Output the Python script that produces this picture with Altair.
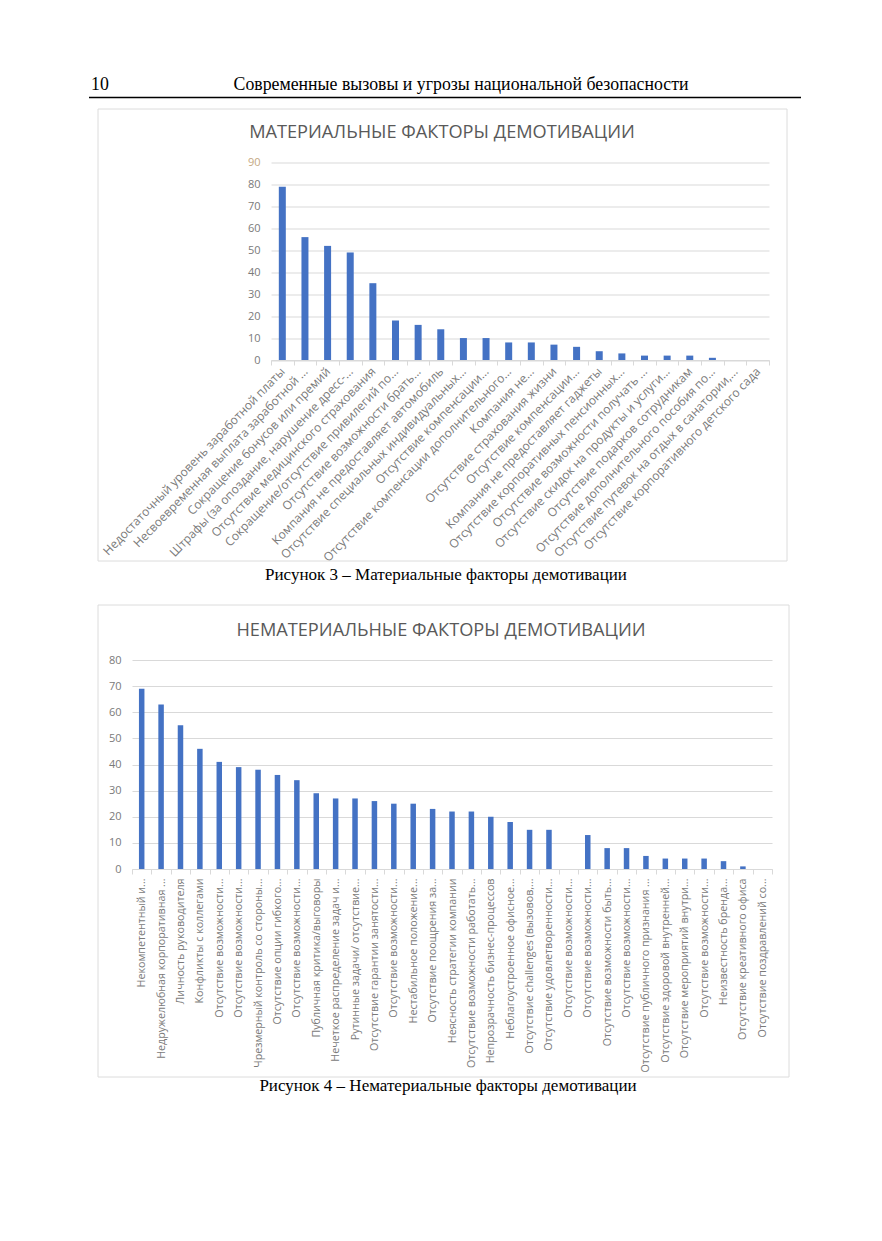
import json
import altair as alt
import pandas as pd

# ---------------- data ----------------
page_number = "10"
page_header = "Современные вызовы и угрозы национальной безопасности"

mat_title = "МАТЕРИАЛЬНЫЕ ФАКТОРЫ ДЕМОТИВАЦИИ"
mat_caption = "Рисунок 3 – Материальные факторы демотивации"
mat_labels = [
    "Недостаточный уровень заработной платы",
    "Несвоевременная выплата заработной ...",
    "Сокращение бонусов или премий",
    "Штрафы (за опоздание, нарушение дресс-...",
    "Отсутствие медицинского страхования",
    "Сокращение/отсутствие привилегий по...",
    "Отсутствие возможности брать...",
    "Компания не предоставляет автомобиль",
    "Отсутствие специальных индивидуальных...",
    "Отсутствие компенсации...",
    "Отсутствие компенсации дополнительного...",
    "Компания не...",
    "Отсутствие страхования жизни",
    "Отсутствие компенсации...",
    "Компания не предоставляет гаджеты",
    "Отсутствие корпоративных пенсионных...",
    "Отсутствие возможности получать ...",
    "Отсутствие скидок на продукты и услуги...",
    "Отсутствие подарков сотрудникам",
    "Отсутствие дополнительного пособия по...",
    "Отсутствие путевок на отдых в санатории,...",
    "Отсутствие корпоративного детского сада",
]
mat_values = [79, 56, 52, 49, 35, 18, 16, 14, 10, 10, 8, 8, 7, 6, 4, 3, 2, 2, 2, 1, 0, 0]
mat_ticks = [0, 10, 20, 30, 40, 50, 60, 70, 80, 90]

nonmat_title = "НЕМАТЕРИАЛЬНЫЕ ФАКТОРЫ ДЕМОТИВАЦИИ"
nonmat_caption = "Рисунок 4 – Нематериальные факторы демотивации"
nonmat_labels = [
    "Некомпетентный и...",
    "Недружелюбная корпоративная ...",
    "Личность руководителя",
    "Конфликты с коллегами",
    "Отсутствие возможности...",
    "Отсутствие возможности...",
    "Чрезмерный контроль со стороны...",
    "Отсутствие опции гибкого...",
    "Отсутствие возможности...",
    "Публичная критика/выговоры",
    "Нечеткое распределение задач и...",
    "Рутинные задачи/ отсутствие...",
    "Отсутствие гарантии занятости...",
    "Отсутствие возможности...",
    "Нестабильное положение...",
    "Отсутствие поощрения за...",
    "Неясность стратегии компании",
    "Отсутствие возможности работать...",
    "Непрозрачность бизнес-процессов",
    "Неблагоустроенное офисное...",
    "Отсутствие challenges (вызовов,...",
    "Отсутствие удовлетворенности...",
    "Отсутствие возможности...",
    "Отсутствие возможности...",
    "Отсутствие возможности быть...",
    "Отсутствие возможности...",
    "Отсутствие публичного признания ...",
    "Отсутствие здоровой внутренней...",
    "Отсутствие мероприятий внутри...",
    "Отсутствие возможности...",
    "Неизвестность бренда...",
    "Отсутствие креативного офиса",
    "Отсутствие поздравлений со...",
]
nonmat_values = [69, 63, 55, 46, 41, 39, 38, 36, 34, 29, 27, 27, 26, 25, 25, 23, 22, 22,
                 20, 18, 15, 15, 0, 13, 8, 8, 5, 4, 4, 4, 3, 1, 0]
nonmat_ticks = [0, 10, 20, 30, 40, 50, 60, 70, 80]

# ---------------- style ----------------
BAR = "#4472C4"
GRID = "#d9d9d9"
LABEL = "#7a7a7a"
TITLE = "#595959"
SANS = "Open Sans"
SERIF = "Liberation Serif"

W1, H1 = 498, 197.5     # plot area of figure 3
W2, H2 = 640, 209       # plot area of figure 4
OFFSET1 = 139           # horizontal shift of figure 3 plot vs figure 4 plot
GAP = 300               # vertical gap between the two plot areas

one = pd.DataFrame({"a": [0]})


def frame(x, x2, y, y2):
    return alt.Chart(one).mark_rect(fillOpacity=0, stroke="#dcdcdc", strokeWidth=1).encode(
        x=alt.value(x), x2=alt.value(x2), y=alt.value(y), y2=alt.value(y2)
    )


def text(t, x, y, size, font, color, align="center"):
    return alt.Chart(one).mark_text(
        font=font, fontSize=size, color=color, align=align, baseline="middle"
    ).encode(x=alt.value(x), y=alt.value(y), text=alt.value(t))


def bars(labels, values, ticks, ymax, w, h, size, angle, lab_size, top_color):
    df = pd.DataFrame({"i": list(range(len(labels))), "v": values})
    lab = json.dumps(labels, ensure_ascii=False)
    return alt.Chart(df).mark_bar(color=BAR, size=size).encode(
        x=alt.X(
            "i:O",
            scale=alt.Scale(paddingInner=0, paddingOuter=0),
            axis=alt.Axis(
                title=None,
                labelExpr=f"{lab}[datum.value]",
                labelAngle=angle,
                labelAlign="right",
                labelBaseline="middle",
                labelFont=SANS,
                labelFontSize=lab_size,
                labelColor=LABEL,
                labelLimit=400,
                labelPadding=4,
                labelOverlap=False,
                domainColor=GRID,
                tickColor=GRID,
                tickSize=5,
                tickBand="extent",
                grid=False,
            ),
        ),
        y=alt.Y(
            "v:Q",
            scale=alt.Scale(domain=[0, ymax], nice=False),
            axis=alt.Axis(
                title=None,
                values=ticks,
                domain=False,
                ticks=False,
                labelPadding=11,
                labelFont=SANS,
                labelFontSize=11,
                labelColor={
                    "condition": {"test": f"datum.value === {ymax}", "value": top_color},
                    "value": LABEL,
                },
                gridColor=GRID,
                gridWidth=1,
            ),
        ),
    ).properties(width=w, height=h)


# ---------------- figure 3 ----------------
chart1 = alt.layer(
    frame(-173, 516, -53.5, 398.5),
    text(page_number, -180, -77.5, 17.8, SERIF, "black", align="left"),
    text(page_header, 190, -77.5, 17.8, SERIF, "black"),
    alt.Chart(one).mark_rule(color="black", strokeWidth=1.5).encode(
        x=alt.value(-182), x2=alt.value(530), y=alt.value(-65)
    ),
    text(mat_title, 171, -29.5, 18.2, SANS, TITLE),
    bars(mat_labels, mat_values, mat_ticks, 90, W1, H1, 7, -46, 12, "#c4a882"),
    text(mat_caption, 175, 412.5, 17, SERIF, "black"),
).properties(width=W1, height=H1)

spacer = alt.Chart(one).mark_point(opacity=0).encode(
    x=alt.X("a:Q", axis=None), y=alt.Y("a:Q", axis=None)
).properties(width=OFFSET1, height=H1)

row1 = alt.hconcat(spacer, chart1, spacing=0, bounds="flush")

# ---------------- figure 4 ----------------
chart2 = alt.layer(
    frame(-34, 657, -55, 417),
    text(nonmat_title, 309, -29, 18.2, SANS, TITLE),
    bars(nonmat_labels, nonmat_values, nonmat_ticks, 80, W2, H2, 5.5, -90, 10.7, LABEL),
    text(nonmat_caption, 316, 426, 17, SERIF, "black"),
).properties(width=W2, height=H2)

# the nested row counts as zero height in a flush layout, so its plot height is added
chart = alt.vconcat(row1, chart2, spacing=GAP + H1, bounds="flush").properties(
    padding={"left": 80, "top": 67.5, "right": 5, "bottom": 5},
    background="white",
).configure_view(stroke=None)

chart.save("out.html", embed_options={"renderer": "svg", "actions": False})
